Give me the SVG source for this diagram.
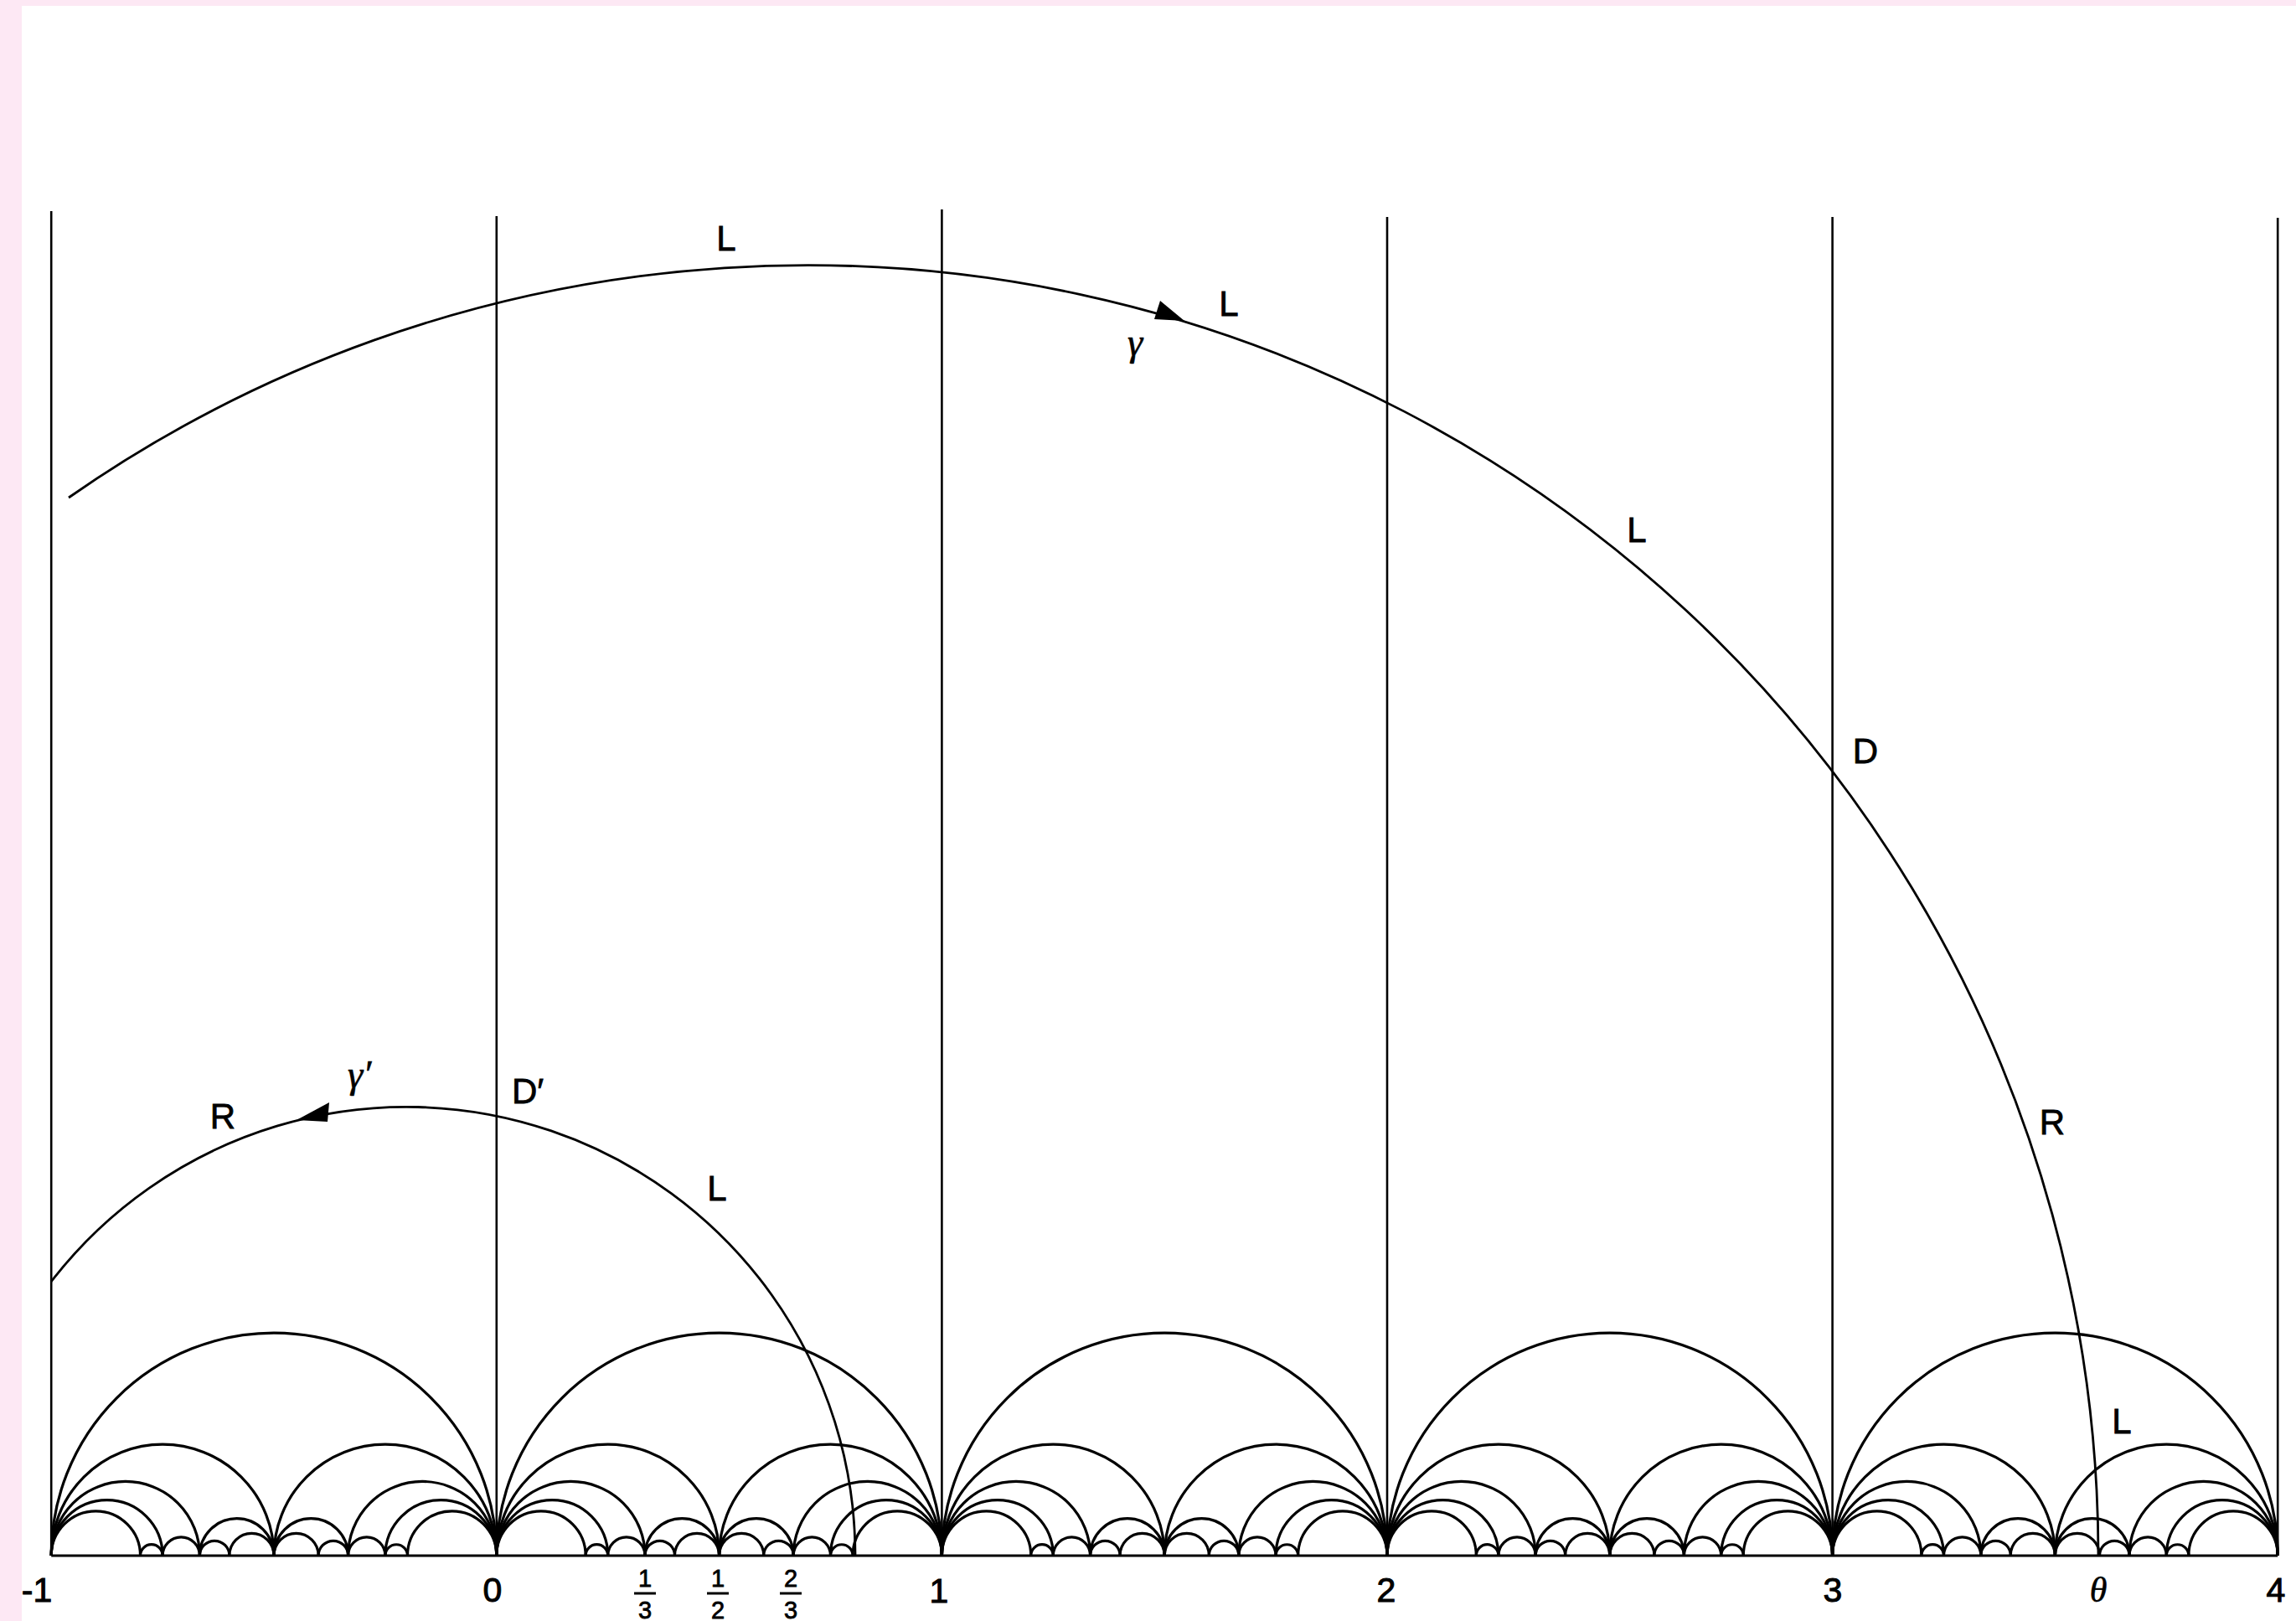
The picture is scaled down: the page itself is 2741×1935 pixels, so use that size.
<svg xmlns="http://www.w3.org/2000/svg" xmlns:xlink="http://www.w3.org/1999/xlink" width="2741" height="1935" viewBox="0 0 2741 1935">
<style>
.vl{stroke:#000;stroke-width:2.6;fill:none}
.geo{fill:none;stroke:#000;stroke-width:2.8}
.lbl{font-family:"Liberation Sans",Arial,sans-serif;font-size:42px;fill:#000;stroke:#000;stroke-width:0.8;text-anchor:middle}
.num{font-family:"Liberation Sans",Arial,sans-serif;font-size:41px;fill:#000;stroke:#000;stroke-width:1;text-anchor:middle}
.frac{font-family:"Liberation Sans",Arial,sans-serif;font-size:29px;fill:#000;stroke:#000;stroke-width:0.8;text-anchor:middle}
.gr{font-family:"Liberation Serif","Times New Roman",serif;font-style:italic;font-size:46px;fill:#000;stroke:#000;stroke-width:0.6}
</style>
<defs>
<g id="cell" fill="none" stroke="#000" stroke-width="3.2">
<path d="M0 0A265.8 265.8 0 0 1 531.6 0"/>
<path d="M0 0A132.9 132.9 0 0 1 265.8 0"/>
<path d="M265.8 0A132.9 132.9 0 0 1 531.6 0"/>
<path d="M0 0A88.6 88.6 0 0 1 177.2 0"/>
<path d="M177.2 0A44.3 44.3 0 0 1 265.8 0"/>
<path d="M265.8 0A44.3 44.3 0 0 1 354.4 0"/>
<path d="M354.4 0A88.6 88.6 0 0 1 531.6 0"/>
<path d="M0 0A66.45 66.45 0 0 1 132.9 0"/>
<path d="M132.9 0A22.15 22.15 0 0 1 177.2 0"/>
<path d="M354.4 0A22.15 22.15 0 0 1 398.7 0"/>
<path d="M398.7 0A66.45 66.45 0 0 1 531.6 0"/>
<path d="M0 0A53.16 53.16 0 0 1 106.32 0"/>
<path d="M106.32 0A13.29 13.29 0 0 1 132.9 0"/>
<path d="M398.7 0A13.29 13.29 0 0 1 425.28 0"/>
<path d="M425.28 0A53.16 53.16 0 0 1 531.6 0"/>
<path d="M177.2 0A17.72 17.72 0 0 1 212.64 0"/>
<path d="M212.64 0A26.58 26.58 0 0 1 265.8 0"/>
<path d="M265.8 0A26.58 26.58 0 0 1 318.96 0"/>
<path d="M318.96 0A17.72 17.72 0 0 1 354.4 0"/>
</g>
</defs>
<rect x="0" y="0" width="2741" height="1935" fill="#fde8f4"/>
<rect x="26" y="7" width="2715" height="1928" fill="#ffffff"/>

<g id="verticals">
<line class="vl" x1="61.2" y1="252" x2="61.2" y2="1857"/>
<line class="vl" x1="592.8" y1="258" x2="592.8" y2="1857"/>
<line class="vl" x1="1124.4" y1="250" x2="1124.4" y2="1857"/>
<line class="vl" x1="1656" y1="259" x2="1656" y2="1857"/>
<line class="vl" x1="2187.6" y1="259" x2="2187.6" y2="1857"/>
<line class="vl" x1="2719.2" y1="260" x2="2719.2" y2="1857"/>
</g>

<g id="farey">
<use xlink:href="#cell" href="#cell" transform="translate(61.2,1857)"/>
<use xlink:href="#cell" href="#cell" transform="translate(592.8,1857)"/>
<use xlink:href="#cell" href="#cell" transform="translate(1124.4,1857)"/>
<use xlink:href="#cell" href="#cell" transform="translate(1656,1857)"/>
<use xlink:href="#cell" href="#cell" transform="translate(2187.6,1857)"/>
<line x1="61.2" y1="1857" x2="2719.2" y2="1857" stroke="#000" stroke-width="3.2"/>
</g>

<g id="connectors">
<path id="gamma" class="geo" d="M82 594A1541 1541 0 0 1 2505 1857"/>
<polygon points="1414,383 1385,359 1378,381" fill="#000"/>
<path id="gammaprime" class="geo" d="M61 1530A535.7 535.7 0 0 1 1021 1857"/>
<polygon points="354,1337 393,1316 391,1339" fill="#000"/>
</g>

<g id="labels">
<text class="lbl" x="867" y="299">L</text>
<text class="lbl" x="1467" y="377">L</text>
<text class="gr" x="1355" y="424" text-anchor="middle">γ</text>
<text class="lbl" x="1954" y="647">L</text>
<text class="lbl" x="2227" y="911">D</text>
<text class="lbl" x="2450" y="1354">R</text>
<text class="lbl" x="2533" y="1711">L</text>
<text class="lbl" x="266" y="1347">R</text>
<text class="gr" x="415" y="1298">γ′</text>
<text class="lbl" x="611" y="1317" style="text-anchor:start">D′</text>
<text class="lbl" x="856" y="1433">L</text>
</g>

<g id="axis-labels">
<text class="num" x="44" y="1912">-1</text>
<text class="num" x="588" y="1912">0</text>
<text class="num" x="1121" y="1913">1</text>
<text class="num" x="1655" y="1912">2</text>
<text class="num" x="2188" y="1912">3</text>
<text class="gr" x="2505" y="1912" text-anchor="middle" style="font-size:42px">θ</text>
<text class="num" x="2717" y="1912">4</text>
<g id="frac13">
<text class="frac" x="770" y="1894">1</text>
<line x1="757" y1="1902" x2="783" y2="1902" stroke="#000" stroke-width="3"/>
<text class="frac" x="770" y="1932">3</text>
</g>
<g id="frac12">
<text class="frac" x="857" y="1894">1</text>
<line x1="844" y1="1902" x2="870" y2="1902" stroke="#000" stroke-width="3"/>
<text class="frac" x="857" y="1932">2</text>
</g>
<g id="frac23">
<text class="frac" x="944" y="1894">2</text>
<line x1="931" y1="1902" x2="957" y2="1902" stroke="#000" stroke-width="3"/>
<text class="frac" x="944" y="1932">3</text>
</g>
</g>
</svg>
